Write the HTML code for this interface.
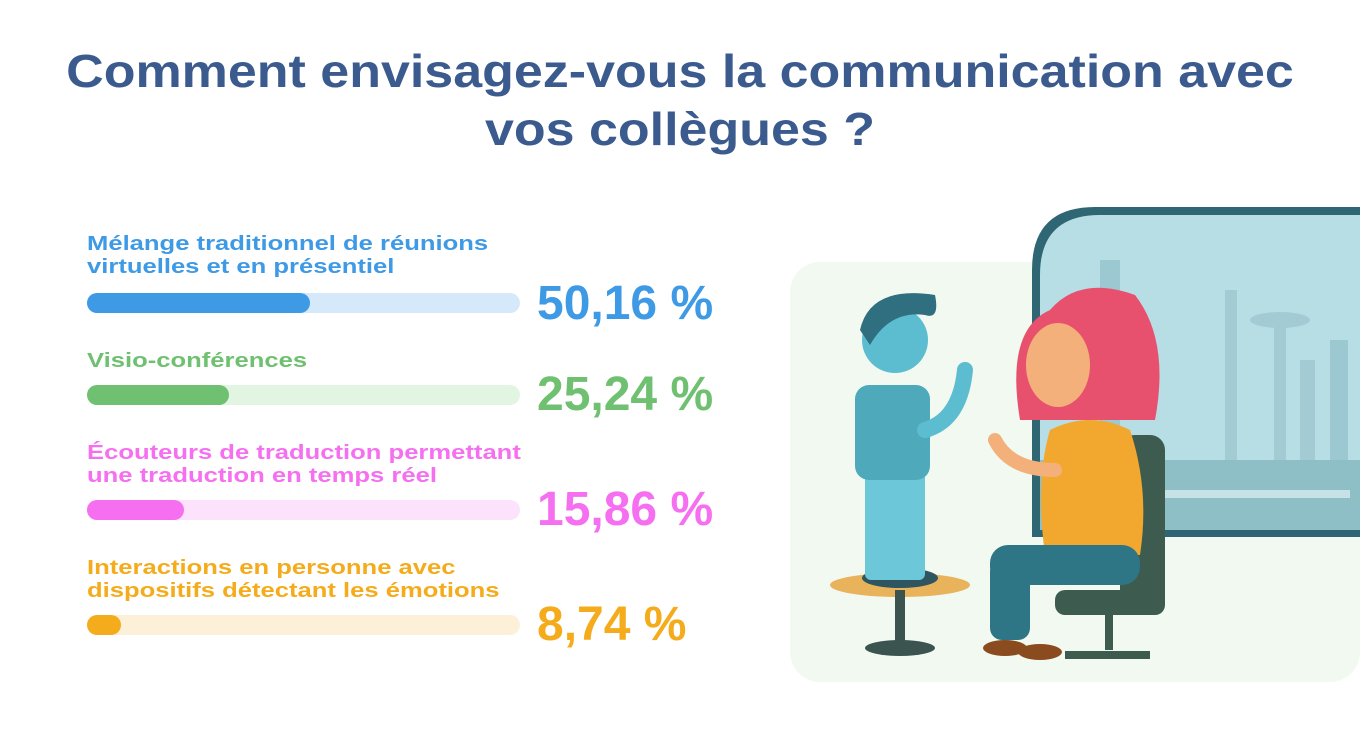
<!DOCTYPE html>
<html><head><meta charset="utf-8"><style>
body{margin:0;width:1360px;height:743px;background:#fff;overflow:hidden;position:relative;font-family:"Liberation Sans",sans-serif}
h1{position:absolute;left:0;top:42px;width:1360px;margin:0;text-align:center;font-size:46px;line-height:58px;font-weight:bold;color:#3b5b8f;transform:scaleX(1.13);transform-origin:680px 0}
.lbl{position:absolute;left:87px;font-size:20px;line-height:23px;font-weight:bold;transform:scaleX(1.28);transform-origin:0 0;white-space:nowrap}
.bar{position:absolute;left:87px;width:433px;height:20px;border-radius:10px}
.fill{position:absolute;left:0;top:0;height:20px;border-radius:10px}
.pct{position:absolute;left:537px;font-size:48px;font-weight:bold;line-height:50px}
</style></head><body>
<h1>Comment envisagez-vous la communication avec<br>vos collègues ?</h1>

<div class="lbl" style="top:233px;color:#3f9ae6">Mélange traditionnel de réunions<br>virtuelles et en présentiel</div>
<div class="bar" style="top:293px;background:#d6e9fb"><div class="fill" style="width:223px;background:#3f9ae6"></div></div>
<div class="pct" style="top:279px;color:#3f9ae6">50,16 %</div>

<div class="lbl" style="top:350px;color:#6fc070">Visio-conférences</div>
<div class="bar" style="top:385px;background:#e2f5e2"><div class="fill" style="width:142px;background:#6fc070"></div></div>
<div class="pct" style="top:370px;color:#6fc070">25,24 %</div>

<div class="lbl" style="top:442px;color:#f56ff0">Écouteurs de traduction permettant<br>une traduction en temps réel</div>
<div class="bar" style="top:500px;background:#fde2fb"><div class="fill" style="width:97px;background:#f56ff0"></div></div>
<div class="pct" style="top:485px;color:#f56ff0">15,86 %</div>

<div class="lbl" style="top:557px;color:#f5ac1c">Interactions en personne avec<br>dispositifs détectant les émotions</div>
<div class="bar" style="top:615px;background:#fdf0d8"><div class="fill" style="width:34px;background:#f5ac1c"></div></div>
<div class="pct" style="top:600px;color:#f5ac1c">8,74 %</div>

<svg style="position:absolute;left:0;top:0" width="1360" height="743">
<rect x="790" y="262" width="570" height="420" rx="30" fill="#f1f9f1"/>
<path d="M1032 537 V270 Q1032 207 1095 207 H1360 V537 Z" fill="#2f6673"/>
<path d="M1040 530 V275 Q1040 215 1100 215 H1360 V530 Z" fill="#b7dde5"/>
<rect x="1100" y="260" width="20" height="200" fill="#9cc8d2"/>
<rect x="1225" y="290" width="12" height="170" fill="#a3cbd4"/>
<ellipse cx="1280" cy="320" rx="30" ry="8" fill="#a3cbd4"/>
<rect x="1274" y="320" width="12" height="160" fill="#a3cbd4"/>
<rect x="1300" y="360" width="15" height="120" fill="#a3cbd4"/>
<rect x="1330" y="340" width="18" height="140" fill="#9cc8d2"/>
<rect x="1040" y="460" width="320" height="70" fill="#8fbfc6"/>
<rect x="1150" y="490" width="200" height="8" fill="#c7e2e6"/>
<ellipse cx="900" cy="585" rx="70" ry="12" fill="#e8b35a"/>
<rect x="895" y="590" width="10" height="55" fill="#3b5450"/>
<ellipse cx="900" cy="648" rx="35" ry="8" fill="#3b5450"/>
<ellipse cx="900" cy="578" rx="38" ry="10" fill="#2e5560"/>
<rect x="865" y="470" width="60" height="110" rx="6" fill="#6cc8d8"/>
<rect x="855" y="385" width="75" height="95" rx="14" fill="#4eaabb"/>
<circle cx="895" cy="340" r="33" fill="#5cbcd0"/>
<path d="M860 330 Q870 285 935 295 Q940 320 925 315 Q890 310 870 345Z" fill="#2f6f80"/>
<path d="M925 430 Q960 420 965 370" stroke="#5cbcd0" stroke-width="16" fill="none" stroke-linecap="round"/>
<rect x="1120" y="435" width="45" height="180" rx="15" fill="#3d5c4f"/>
<rect x="1055" y="590" width="110" height="25" rx="10" fill="#3d5c4f"/>
<rect x="1105" y="610" width="8" height="40" fill="#3d5c4f"/>
<path d="M1065 655 L1150 655" stroke="#3d5c4f" stroke-width="8"/>
<path d="M1050 430 Q1090 410 1130 430 Q1150 490 1140 555 H1045 Q1035 480 1050 430Z" fill="#f2a72e"/>
<rect x="990" y="545" width="150" height="40" rx="18" fill="#2e7686"/>
<rect x="990" y="560" width="40" height="80" rx="12" fill="#2e7686"/>
<ellipse cx="1005" cy="648" rx="22" ry="8" fill="#8a4b1f"/>
<ellipse cx="1040" cy="652" rx="22" ry="8" fill="#8a4b1f"/>
<path d="M1050 310 Q1080 275 1135 295 Q1170 340 1155 420 H1020 Q1005 330 1050 310Z" fill="#e8516d"/>
<ellipse cx="1058" cy="365" rx="32" ry="42" fill="#f4b07a"/>
<path d="M1055 470 Q1010 470 995 440" stroke="#f4b07a" stroke-width="14" fill="none" stroke-linecap="round"/>
</svg>
</body></html>
